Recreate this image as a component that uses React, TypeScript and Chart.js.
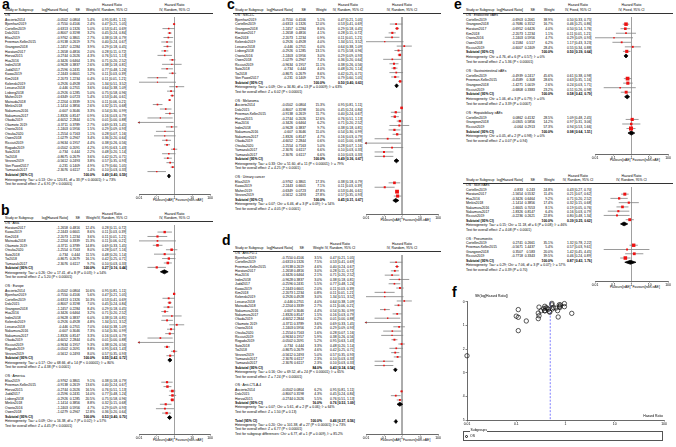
import React, { useEffect, useRef } from "react";
import { Chart, registerables } from "chart.js";

Chart.register(...registerables);

const FONT = "Arial, 'Liberation Sans', Helvetica, sans-serif";
const FS = 3.4;
const PAGE_W = 676;
Chart.defaults.font.family = FONT;

// ---------------- OS studies (panel a; reused in b, c, d and funnel f) ----------------
const studyNames = [
  "Ascierto2014", "Bjornhart2019", "Cortellini2019", "Dolz2015", "Elias2019", "Freeman-Keller2015",
  "Grangeon2018", "Haratani2017", "Horvat2015", "Hua2016", "Indini2018", "Judd2017", "Kawai2019",
  "Kim2018", "Kolenski2019", "Lesueur2018", "Lisberg2018", "Maher2019", "Matsuda2018", "Minkis2018",
  "Nakamura2016", "Nakamura2017", "Okada2019", "Okamoto 2019", "Osorio2016", "Otsuka2020", "Owen2018",
  "Ricciuti2019", "Rogado2019", "Sato2018", "Toi2018", "Verzoni2019", "Von Pawel2017", "Yamazaki2017",
];
const logHRText = [
  "-0.0502", "-0.7550", "-0.6313", "-0.8007", "-0.9762", "-0.9138", "-1.2457", "-1.2658", "-0.2744",
  "-0.3426", "-0.9628", "-0.2596", "-2.2443", "-2.2073", "0.2926", "-0.446", "-0.2926", "-0.6349",
  "-2.2204", "-1.1414", "-0.607", "-1.8326", "-4.6052", "-0.3711", "-1.2403", "-1.2554", "-1.0279",
  "-0.9634", "-0.0502", "-0.734", "-0.8675", "-0.5612", "-0.231", "-2.3076",
];
const seText = [
  "0.0804", "0.4106", "0.1326", "0.3198", "0.3801", "0.2619", "0.2284", "0.4816", "0.2026", "0.6464",
  "0.3837", "0.2431", "0.6601", "1.2234", "0.4928", "0.2701", "0.1285", "0.0723", "0.3339", "0.3856",
  "0.3046", "0.8147", "2.2844", "0.3789", "0.5956", "0.7163", "0.2967", "0.1957", "0.2091", "0.444",
  "0.2679", "0.2493", "0.1409", "0.6117",
];
const hrPoint = [0.95, 0.47, 0.53, 0.45, 0.38, 0.40, 0.29, 0.28, 0.76, 0.71, 0.38, 0.77, 0.11, 0.11, 1.34, 0.64, 0.75, 0.53, 0.11, 0.32, 0.54, 0.16, 0.01, 0.69, 0.29, 0.28, 0.36, 0.38, 0.95, 0.48, 0.42, 0.57, 0.79, 0.10];
const hrLower = [0.81, 0.21, 0.41, 0.24, 0.18, 0.24, 0.18, 0.11, 0.51, 0.20, 0.18, 0.48, 0.03, 0.01, 0.51, 0.38, 0.58, 0.46, 0.06, 0.15, 0.30, 0.03, 0.00, 0.33, 0.09, 0.07, 0.20, 0.26, 0.63, 0.20, 0.25, 0.35, 0.60, 0.03];
const hrUpper = [1.11, 1.05, 0.69, 0.84, 0.79, 0.67, 0.45, 0.72, 1.13, 2.52, 0.81, 1.24, 0.39, 1.21, 3.52, 1.09, 0.96, 0.61, 0.21, 0.68, 0.99, 0.79, 0.88, 1.45, 0.93, 1.16, 0.64, 0.56, 1.43, 1.14, 0.71, 0.93, 1.05, 0.33];
const weightOS = [5.4, 2.4, 5.0, 3.2, 2.7, 3.7, 3.9, 2.0, 4.3, 1.3, 2.6, 3.8, 1.2, 0.4, 2.0, 3.6, 5.0, 5.4, 3.1, 2.6, 3.3, 0.9, 0.1, 2.7, 1.5, 1.1, 3.4, 4.4, 4.2, 2.2, 3.6, 3.8, 4.9, 1.4];
const subOS = [0.49, 0.40, 0.59];
const noteOS = ["Heterogeneity: Tau² = 0.13; Chi² = 120.81, df = 33 (P < 0.00001); I² = 73%", "Test for overall effect: Z = 6.91 (P < 0.00001)"];

// ---------------- panel b: region ----------------
const asiaNames = ["Haratani2017", "Kawai2019", "Kim2018", "Matsuda2018", "Okamoto 2019", "Otsuka2020", "Sato2018", "Toi2018", "Yamazaki2017"];
const asiaWeights = [12.4, 8.6, 3.6, 15.3, 14.8, 8.0, 11.5, 16.1, 9.7];
const subAsia = [0.27, 0.16, 0.44];
const noteAsia = ["Heterogeneity: Tau² = 0.26; Chi² = 17.41, df = 8 (P = 0.03); I² = 54%", "Test for overall effect: Z = 5.20 (P < 0.00001)"];
const europeNames = ["Ascierto2014", "Bjornhart2019", "Cortellini2019", "Dolz2015", "Grangeon2018", "Hua2016", "Indini2018", "Kolenski2019", "Lesueur2018", "Nakamura2016", "Nakamura2017", "Okada2019", "Ricciuti2019", "Rogado2019", "Verzoni2019"];
const europeWeights = [10.6, 5.6, 10.3, 7.0, 8.4, 3.2, 6.0, 4.8, 7.0, 7.3, 3.3, 0.4, 9.3, 8.8, 8.0];
const subEurope = [0.55, 0.42, 0.72];
const noteEurope = ["Heterogeneity: Tau² = 0.17; Chi² = 68.66, df = 14 (P < 0.00001); I² = 80%", "Test for overall effect: Z = 4.38 (P < 0.0001)"];
const americaNames = ["Elias2019", "Freeman-Keller2015", "Horvat2015", "Judd2017", "Lisberg2018", "Minkis2018", "Osorio2016", "Owen2018"];
const americaWeights = [9.1, 13.6, 16.5, 14.0, 20.5, 8.8, 4.7, 12.8];
const subAmerica = [0.53, 0.40, 0.70];
const noteAmerica = ["Heterogeneity: Tau² = 0.09; Chi² = 16.38, df = 7 (P = 0.02); I² = 57%", "Test for overall effect: Z = 4.45 (P < 0.00001)"];

// ---------------- panel c: cancer type ----------------
const nsclcNames = ["Bjornhart2019", "Cortellini2019", "Grangeon2018", "Haratani2017", "Kim2018", "Kolenski2019", "Lesueur2018", "Lisberg2018", "Osorio2016", "Owen2018", "Ricciuti2019", "Sato2018", "Toi2018", "Von Pawel2017"];
const nsclcWeights = [5.1, 12.0, 8.0, 4.1, 0.9, 4.0, 6.0, 13.1, 3.0, 7.4, 11.1, 4.0, 8.6, 12.7];
const subNSCLC = [0.50, 0.40, 0.63];
const noteNSCLC = ["Heterogeneity: Tau² = 0.09; Chi² = 34.80, df = 13 (P = 0.0009); I² = 63%", "Test for overall effect: Z = 6.02 (P < 0.00001)"];
const melanomaNames = ["Ascierto2014", "Dolz2015", "Freeman-Keller2015", "Horvat2015", "Hua2016", "Indini2018", "Nakamura2016", "Nakamura2017", "Okada2019", "Otsuka2020", "Yamazaki2017", "Yamazaki2017"];
const melanomaWeights = [15.3, 10.0, 11.7, 12.6, 6.2, 9.7, 11.0, 4.7, 0.6, 5.0, 6.6, 6.6];
const subMelanoma = [0.49, 0.36, 0.67];
const noteMelanoma = ["Heterogeneity: Tau² = 0.33; Chi² = 51.60, df = 11 (P < 0.00001); I² = 79%", "Test for overall effect: Z = 4.25 (P < 0.0001)"];
const urinaryNames = ["Elias2019", "Kawai2019", "Maher2019", "Verzoni2019"];
const urinaryWeights = [17.3, 7.1, 47.8, 27.8];
const subUrinary = [0.45, 0.31, 0.67];
const noteUrinary = ["Heterogeneity: Tau² = 0.07; Chi² = 6.46, df = 3 (P = 0.09); I² = 54%", "Test for overall effect: Z = 4.05 (P < 0.0001)"];

// ---------------- panel d: ICI type ----------------
const pd1Names = ["Bjornhart2019", "Cortellini2019", "Freeman-Keller2015", "Haratani2017", "Hua2016", "Indini2018", "Judd2017", "Kawai2019", "Kim2018", "Kolenski2019", "Lesueur2018", "Matsuda2018", "Nakamura2016", "Nakamura2017", "Okada2019", "Okamoto 2019", "Osorio2016", "Otsuka2020", "Ricciuti2019", "Rogado2019", "Sato2018", "Toi2018", "Verzoni2019", "Yamazaki2017", "Yamazaki2017"];
const pd1Weights = [3.5, 7.5, 4.6, 3.0, 2.1, 3.0, 5.5, 2.0, 0.8, 3.0, 4.0, 2.7, 4.4, 1.5, 0.2, 3.6, 2.4, 1.6, 5.9, 5.2, 3.3, 4.6, 5.0, 2.3, 2.3];
const subPD1 = [0.43, 0.34, 0.54];
const notePD1 = ["Heterogeneity: Tau² = 0.16; Chi² = 69.52, df = 24 (P < 0.00001); I² = 65%", "Test for overall effect: Z = 7.24 (P < 0.00001)"];
const ctla4Names = ["Ascierto2014", "Dolz2015", "Horvat2015"];
const ctla4Weights = [6.2, 4.3, 5.5];
const subCTLA4 = [0.76, 0.53, 1.09];
const noteCTLA4 = ["Heterogeneity: Tau² = 0.07; Chi² = 5.61, df = 2 (P = 0.06); I² = 64%", "Test for overall effect: Z = 1.50 (P = 0.13)"];
const totalICI = [0.46, 0.37, 0.56];
const noteTotal = ["Heterogeneity: Tau² = 0.20; Chi² = 101.38, df = 27 (P < 0.00001); I² = 73%", "Test for overall effect: Z = 6.77 (P < 0.00001)", "Test for subgroup differences: Chi² = 6.77, df = 1 (P = 0.009), I² = 85.2%"];

// ---------------- panel e: irAE types ----------------
const endoNames = ["Cortellini2019", "Grangeon2018", "Haratani2017", "Kim2018", "Osorio2016", "Owen2018", "Ricciuti2019"];
const endoLogHR = ["-0.6903", "-0.7686", "-0.6952", "-2.2073", "-1.2403", "0.1584", "-0.6007"];
const endoSE = ["0.2061", "0.3152", "0.6426", "1.2234", "0.5956", "0.517", "0.2409"];
const endoWeights = [38.9, 16.7, 4.0, 1.1, 4.7, 6.2, 28.4];
const endoHR = [0.50, 0.46, 0.50, 0.11, 0.29, 1.17, 0.55];
const endoLo = [0.33, 0.25, 0.14, 0.01, 0.09, 0.43, 0.34];
const endoHi = [0.75, 0.86, 1.76, 1.21, 0.93, 3.23, 0.88];
const subEndo = [0.50, 0.39, 0.64];
const noteEndo = ["Heterogeneity: Chi² = 4.76, df = 6 (P = 0.57); I² = 0%", "Test for overall effect: Z = 5.36 (P < 0.00001)"];

const giNames = ["Cortellini2019", "Freeman-Keller2015", "Grangeon2018", "Ricciuti2019"];
const giLogHR = ["-0.4939", "-0.4589", "-1.4271", "-0.6808"];
const giSE = ["0.2417", "0.308", "1.0019", "0.3383"];
const giWeights = [45.6, 28.6, 2.6, 23.2];
const giHR = [0.61, 0.63, 0.24, 0.51];
const giLo = [0.38, 0.35, 0.03, 0.26];
const giHi = [0.98, 1.16, 1.71, 0.98];
const subGI = [0.58, 0.42, 0.79];
const noteGI = ["Heterogeneity: Chi² = 1.06, df = 3 (P = 0.79); I² = 0%", "Test for overall effect: Z = 3.39 (P = 0.0007)"];

const hepNames = ["Cortellini2019", "Grangeon2018", "Ricciuti2019"];
const hepLogHR = ["0.0862", "-0.0305", "-0.064"];
const hepSE = ["0.4132", "0.5856", "0.2913"];
const hepWeights = [28.5, 14.2, 57.3];
const hepHR = [1.09, 0.97, 0.94];
const hepLo = [0.48, 0.31, 0.53];
const hepHi = [2.45, 3.06, 1.66];
const subHep = [0.98, 0.64, 1.51];
const noteHep = ["Heterogeneity: Chi² = 0.05, df = 2 (P = 0.98); I² = 0%", "Test for overall effect: Z = 0.07 (P = 0.94)"];

const skinNames = ["Cortellini2019", "Haratani2017", "Hua2016", "Minkis2018", "Nakamura2016", "Nakamura2017", "Ricciuti2019"];
const skinLogHR = ["-0.833", "-1.5654", "-0.3426", "-1.1414", "-1.6605", "-1.8326", "-0.2236"];
const skinSE = ["0.243", "0.5532", "0.6464", "0.3856", "0.7053", "0.8147", "0.2621"];
const skinWeights = [24.8, 11.4, 9.2, 17.4, 8.1, 6.4, 22.8];
const skinHR = [0.43, 0.21, 0.71, 0.32, 0.19, 0.16, 0.80];
const skinLo = [0.27, 0.07, 0.20, 0.15, 0.05, 0.03, 0.48];
const skinHi = [0.70, 0.62, 2.52, 0.68, 0.76, 0.79, 1.34];
const subSkin = [0.39, 0.25, 0.62];
const noteSkin = ["Heterogeneity: Tau² = 0.15; Chi² = 11.18, df = 6 (P = 0.08); I² = 46%", "Test for overall effect: Z = 4.08 (P < 0.0001)"];

const pneuNames = ["Cortellini2019", "Freeman-Keller2015", "Grangeon2018", "Ricciuti2019"];
const pneuLogHR = ["0.2741", "-0.5671", "0.3507", "-0.7718"];
const pneuSE = ["0.2661", "1.4437", "0.583", "0.3343"];
const pneuWeights = [35.1, 5.4, 20.0, 39.5];
const pneuHR = [1.32, 0.57, 1.42, 0.46];
const pneuLo = [0.78, 0.03, 0.45, 0.24];
const pneuHi = [2.22, 9.61, 4.45, 0.89];
const subPneu = [0.87, 0.43, 1.76];
const notePneu = ["Heterogeneity: Tau² = 0.29; Chi² = 7.06, df = 3 (P = 0.07); I² = 57%", "Test for overall effect: Z = 0.39 (P = 0.70)"];

const axisTicks = [0.01, 0.1, 1, 10, 100];
const funnelSETicks = [0, 1, 2, 3, 4, 5];

// ---------------- row model ----------------
type Row = {
  kind: "group" | "study" | "sub" | "note" | "blank";
  name?: string; lhr?: string; se?: string; w?: number;
  hr?: number; lo?: number; hi?: number;
};
const osStudy = (name: string, w: number): Row => {
  const k = studyNames.indexOf(name);
  return { kind: "study", name, lhr: logHRText[k], se: seText[k], w, hr: hrPoint[k], lo: hrLower[k], hi: hrUpper[k] };
};
const grp = (name: string): Row => ({ kind: "group", name });
const sub = (label: string, w: number, est: number[]): Row => ({ kind: "sub", name: label, w, hr: est[0], lo: est[1], hi: est[2] });
const notes = (lines: string[]): Row[] => lines.map((t) => ({ kind: "note", name: t } as Row));
const BLANK: Row = { kind: "blank" };
const osBlock = (title: string, names: string[], ws: number[], est: number[], nt: string[], subW = 100): Row[] => [
  grp(title), ...names.map((n, i) => osStudy(n, ws[i])), sub("Subtotal (95% CI)", subW, est), ...notes(nt),
];
const ownBlock = (title: string, names: string[], lhr: string[], se: string[], ws: number[], hr: number[], lo: number[], hi: number[], est: number[], nt: string[]): Row[] => [
  grp(title),
  ...names.map((n, i) => ({ kind: "study", name: n, lhr: lhr[i], se: se[i], w: ws[i], hr: hr[i], lo: lo[i], hi: hi[i] } as Row)),
  sub("Subtotal (95% CI)", 100, est), ...notes(nt),
];

const rowsA: Row[] = osBlock("OS", studyNames, weightOS, subOS, noteOS);
const rowsB: Row[] = [
  ...osBlock("OS : Asia", asiaNames, asiaWeights, subAsia, noteAsia), BLANK,
  ...osBlock("OS : Europe", europeNames, europeWeights, subEurope, noteEurope), BLANK,
  ...osBlock("OS : America", americaNames, americaWeights, subAmerica, noteAmerica),
];
const rowsC: Row[] = [
  ...osBlock("OS : NSCLC", nsclcNames, nsclcWeights, subNSCLC, noteNSCLC), BLANK,
  ...osBlock("OS : Melanoma", melanomaNames, melanomaWeights, subMelanoma, noteMelanoma), BLANK,
  ...osBlock("OS : Urinary cancer", urinaryNames, urinaryWeights, subUrinary, noteUrinary),
];
const rowsD: Row[] = [
  ...osBlock("OS : Anti-PD-1", pd1Names, pd1Weights, subPD1, notePD1, 84.0), BLANK,
  ...osBlock("OS : Anti-CTLA-4", ctla4Names, ctla4Weights, subCTLA4, noteCTLA4, 16.0), BLANK,
  sub("Total (95% CI)", 100, totalICI), ...notes(noteTotal),
];
const rowsE1: Row[] = [
  ...ownBlock("OS : Endocrine irAEs", endoNames, endoLogHR, endoSE, endoWeights, endoHR, endoLo, endoHi, subEndo, noteEndo), BLANK,
  ...ownBlock("OS : Gastrointestinal irAEs", giNames, giLogHR, giSE, giWeights, giHR, giLo, giHi, subGI, noteGI), BLANK,
  ...ownBlock("OS : Hepatobiliary irAEs", hepNames, hepLogHR, hepSE, hepWeights, hepHR, hepLo, hepHi, subHep, noteHep),
];
const rowsE2: Row[] = [
  ...ownBlock("OS : Skin irAEs", skinNames, skinLogHR, skinSE, skinWeights, skinHR, skinLo, skinHi, subSkin, noteSkin), BLANK,
  ...ownBlock("OS : Pneumonitis", pneuNames, pneuLogHR, pneuSE, pneuWeights, pneuHR, pneuLo, pneuHi, subPneu, notePneu),
];

// ---------------- layout ----------------
type Geo = {
  rowTop: number; rowH: number; cName: number; cLhr: number; cSe: number; cW: number; cCi: number; ciHdr: number;
  x0: number; x1: number; hdr1Y: number; hdr2Y: number; lineY: number; lineX0: number; lineX1: number; axisY: number; method: string;
};
const RANDOM = "IV, Random, 95% CI";
const colsAB = { cName: 5, cLhr: 68, cSe: 80, cW: 95, cCi: 102, ciHdr: 112, x0: 139, x1: 210 };
const colsC = { cName: 235, cLhr: 293, cSe: 306, cW: 325, cCi: 338, ciHdr: 348, x0: 366, x1: 438 };
const colsD = { cName: 235, cLhr: 293, cSe: 304, cW: 322, cCi: 330, ciHdr: 340, x0: 366, x1: 438 };
const colsE = { cName: 466, cLhr: 523, cSe: 535, cW: 553, cCi: 567, ciHdr: 578, x0: 595, x1: 668 };
const geoA: Geo = { ...colsAB, rowTop: 15.7, rowH: 4.57, hdr1Y: 6, hdr2Y: 10.5, lineY: 13, lineX0: 4, lineX1: 213, axisY: 194, method: RANDOM };
const geoB: Geo = { ...colsAB, rowTop: 223.7, rowH: 4.5, hdr1Y: 214.3, hdr2Y: 218.8, lineY: 221, lineX0: 4, lineX1: 213, axisY: 434, method: RANDOM };
const geoC: Geo = { ...colsC, rowTop: 15.7, rowH: 4.5, hdr1Y: 6, hdr2Y: 10.5, lineY: 13, lineX0: 233, lineX1: 441, axisY: 214, method: RANDOM };
const geoD: Geo = { ...colsD, rowTop: 254, rowH: 4.4, hdr1Y: 244.3, hdr2Y: 248.8, lineY: 251, lineX0: 233, lineX1: 441, axisY: 434, method: RANDOM };
const geoE1: Geo = { ...colsE, rowTop: 15.7, rowH: 4.67, hdr1Y: 6, hdr2Y: 10.5, lineY: 13, lineX0: 463, lineX1: 673, axisY: 154, method: "IV, Fixed, 95% CI" };
const geoE2: Geo = { ...colsE, rowTop: 186, rowH: 4.44, hdr1Y: 176.7, hdr2Y: 181, lineY: 183, lineX0: 463, lineX1: 673, axisY: 281, method: RANDOM };

// ---------------- helpers ----------------
const fmtCI = (r: Row) => `${r.hr!.toFixed(2)} [${r.lo!.toFixed(2)}, ${r.hi!.toFixed(2)}]`;

function Txt({ x, y, s, align = "left", bold = false, size = FS }: { x: number; y: number; s: string; align?: "left" | "right" | "center"; bold?: boolean; size?: number }) {
  const st: React.CSSProperties = {
    position: "absolute", top: y - size / 2, fontSize: size, lineHeight: `${size}px`, whiteSpace: "nowrap",
    fontWeight: bold ? 700 : 400, color: "#000",
  };
  if (align === "left") st.left = x;
  else if (align === "right") st.right = PAGE_W - x;
  else { st.left = x; st.transform = "translateX(-50%)"; }
  return <span style={st}>{s}</span>;
}

function logAxis(height: number): any {
  return {
    type: "logarithmic", min: 0.01, max: 100,
    afterBuildTicks: (s: any) => { s.ticks = axisTicks.map((v) => ({ value: v })); },
    afterFit: (s: any) => { s.height = height; },
    ticks: { font: { size: FS, family: FONT }, color: "#000", padding: 0.6, autoSkip: false, maxRotation: 0, minRotation: 0, callback: (v: any) => String(v) },
    grid: { display: true, drawOnChartArea: false, drawTicks: true, tickLength: 1.5, color: "#333", lineWidth: 0.6 },
    border: { display: true, color: "#444", width: 0.8 },
  };
}

const squareSide = (w: number) => 0.9 + 0.42 * Math.sqrt(w);

function ForestChart({ rows, g }: { rows: Row[]; g: Geo }) {
  const ref = useRef<HTMLCanvasElement>(null);
  const cl = Math.floor(g.x0 - 7);
  const cr = Math.ceil(g.x1 + 7);
  const ct = Math.floor(g.lineY);
  const cb = Math.ceil(g.axisY + 9);
  const width = cr - cl;
  const height = cb - ct;
  useEffect(() => {
    const yMin = (g.lineY - g.rowTop) / g.rowH;
    const yMax = (g.axisY - g.rowTop) / g.rowH;
    const ci: any[] = [];
    const sq: any[] = [];
    const arrowsL: any[] = [];
    const arrowsR: any[] = [];
    const diamonds: any[] = [];
    rows.forEach((r, i) => {
      if (r.kind === "study") {
        ci.push({ x: Math.max(r.lo!, 0.01), y: i }, { x: Math.min(r.hi!, 100), y: i }, { x: NaN, y: NaN });
        sq.push({ x: r.hr, y: i, w: r.w });
        if (r.lo! < 0.01) arrowsL.push({ x: 0.01, y: i });
        if (r.hi! > 100) arrowsR.push({ x: 100, y: i });
      } else if (r.kind === "sub") {
        const dh = 0.45;
        diamonds.push({
          type: "line",
          data: [{ x: r.lo, y: i }, { x: r.hr, y: i - dh }, { x: r.hi, y: i }, { x: r.hr, y: i + dh }, { x: r.lo, y: i }],
          borderColor: "#000", backgroundColor: "#000", borderWidth: 0.8, fill: "shape", pointRadius: 0, tension: 0, clip: false,
        });
      }
    });
    const chart = new Chart(ref.current!, {
      type: "scatter",
      data: {
        datasets: [
          {
            data: sq, pointStyle: "rect", backgroundColor: "#ee1111", pointBackgroundColor: "#ee1111", borderWidth: 0, pointBorderWidth: 0,
            pointRadius: (c: any) => squareSide(c.raw ? c.raw.w : 1) / Math.SQRT2, clip: false,
          } as any,
          ...diamonds,
          { data: arrowsL, pointStyle: "triangle", pointRotation: -90, pointRadius: 1.5, backgroundColor: "#555", pointBackgroundColor: "#555", pointBorderWidth: 0, clip: false } as any,
          { data: arrowsR, pointStyle: "triangle", pointRotation: 90, pointRadius: 1.5, backgroundColor: "#555", pointBackgroundColor: "#555", pointBorderWidth: 0, clip: false } as any,
          { type: "line", data: ci, borderColor: "#808080", borderWidth: 0.8, pointRadius: 0, spanGaps: false, fill: false, clip: false } as any,
          { type: "line", data: [{ x: 1, y: yMin }, { x: 1, y: yMax }], borderColor: "#a0a0a0", borderWidth: 1, pointRadius: 0, fill: false, clip: false } as any,
        ],
      },
      options: {
        responsive: false, animation: false, devicePixelRatio: 1, events: [],
        layout: { padding: { left: g.x0 - cl, right: cr - g.x1, top: g.lineY - ct, bottom: 0 } },
        plugins: { legend: { display: false }, tooltip: { enabled: false } },
        scales: {
          x: logAxis(cb - g.axisY),
          y: { type: "linear", display: false, min: yMin, max: yMax, reverse: true },
        },
      } as any,
    });
    return () => chart.destroy();
  }, []);
  return <canvas ref={ref} width={width} height={height} style={{ position: "absolute", left: cl, top: ct, width, height }} />;
}

function ForestPanel({ rows, g }: { rows: Row[]; g: Geo }) {
  const xc = (g.x0 + g.x1) / 2;
  const items: React.ReactNode[] = [
    <Txt key="h1a" x={g.ciHdr} y={g.hdr1Y} s="Hazard Ratio" align="center" />,
    <Txt key="h1b" x={xc} y={g.hdr1Y} s="Hazard Ratio" align="center" />,
    <Txt key="h2a" x={g.cName} y={g.hdr2Y} s="Study or Subgroup" />,
    <Txt key="h2b" x={g.cLhr} y={g.hdr2Y} s="log[Hazard Ratio]" align="right" />,
    <Txt key="h2c" x={g.cSe} y={g.hdr2Y} s="SE" align="right" />,
    <Txt key="h2d" x={g.cW + 1.5} y={g.hdr2Y} s="Weight" align="right" />,
    <Txt key="h2e" x={g.ciHdr} y={g.hdr2Y} s={g.method} align="center" />,
    <Txt key="h2f" x={xc} y={g.hdr2Y} s={g.method} align="center" />,
    <div key="hl" style={{ position: "absolute", left: g.lineX0, top: Math.round(g.lineY), width: g.lineX1 - g.lineX0, height: 1, background: "#333" }} />,
    <Txt key="fl" x={xc - 1} y={g.axisY + 7} s="Favours[irAE]" align="right" />,
    <Txt key="fr" x={xc + 1} y={g.axisY + 7} s="Favours[non-irAE]" />,
  ];
  rows.forEach((r, i) => {
    const y = g.rowTop + i * g.rowH;
    if (r.kind === "group" || r.kind === "note") {
      items.push(<Txt key={`n${i}`} x={g.cName} y={y} s={r.name!} />);
    } else if (r.kind === "study") {
      items.push(<Txt key={`a${i}`} x={g.cName} y={y} s={r.name!} />);
      items.push(<Txt key={`b${i}`} x={g.cLhr} y={y} s={r.lhr!} align="right" />);
      items.push(<Txt key={`c${i}`} x={g.cSe} y={y} s={r.se!} align="right" />);
      items.push(<Txt key={`d${i}`} x={g.cW} y={y} s={`${r.w!.toFixed(1)}%`} align="right" />);
      items.push(<Txt key={`e${i}`} x={g.cCi} y={y} s={fmtCI(r)} />);
    } else if (r.kind === "sub") {
      items.push(<Txt key={`a${i}`} x={g.cName} y={y} s={r.name!} bold />);
      items.push(<Txt key={`d${i}`} x={g.cW} y={y} s={`${r.w!.toFixed(1)}%`} align="right" bold />);
      items.push(<Txt key={`e${i}`} x={g.cCi} y={y} s={fmtCI(r)} bold />);
    }
  });
  return (
    <>
      {items}
      <ForestChart rows={rows} g={g} />
    </>
  );
}

function FunnelChart() {
  const ref = useRef<HTMLCanvasElement>(null);
  const cl = 455, ct = 297, cr = 672, cb = 428;
  const areaL = 467, areaT = 300, areaR = 664, areaB = 420;
  useEffect(() => {
    const pts = studyNames.map((_, k) => ({ x: hrPoint[k], y: Number(seText[k]) }));
    const chart = new Chart(ref.current!, {
      type: "scatter",
      data: {
        datasets: [
          {
            data: pts, pointStyle: "circle", pointRadius: 2.2, pointBorderWidth: 0.7, borderColor: "#111", pointBorderColor: "#111",
            backgroundColor: "rgba(0,0,0,0)", pointBackgroundColor: "rgba(0,0,0,0)", clip: false,
          } as any,
          {
            type: "line", data: [{ x: subOS[0], y: 0 }, { x: subOS[0], y: 5 }], borderColor: "#7d7dff", borderDash: [2, 1.5],
            borderWidth: 1, pointRadius: 0, fill: false, clip: false,
          } as any,
        ],
      },
      options: {
        responsive: false, animation: false, devicePixelRatio: 1, events: [],
        layout: { padding: { left: 0, right: cr - areaR, top: areaT - ct, bottom: 0 } },
        plugins: { legend: { display: false }, tooltip: { enabled: false } },
        scales: {
          x: logAxis(cb - areaB),
          y: {
            type: "linear", min: 0, max: 5, reverse: true,
            afterBuildTicks: (s: any) => { s.ticks = funnelSETicks.map((v) => ({ value: v })); },
            afterFit: (s: any) => { s.width = areaL - cl; },
            ticks: { font: { size: FS, family: FONT }, color: "#000", padding: 0.8, callback: (v: any) => String(v) },
            grid: { display: true, drawOnChartArea: false, drawTicks: true, tickLength: 1.5, color: "#333", lineWidth: 0.6 },
            border: { display: true, color: "#444", width: 0.8 },
          },
        },
      } as any,
    });
    return () => chart.destroy();
  }, []);
  return <canvas ref={ref} width={cr - cl} height={cb - ct} style={{ position: "absolute", left: cl, top: ct, width: cr - cl, height: cb - ct }} />;
}

function Letter({ x, base, t }: { x: number; base: number; t: string }) {
  const fs = 14;
  return (
    <span style={{ position: "absolute", left: x, top: base - 0.85 * fs, fontSize: fs, lineHeight: `${fs}px`, fontWeight: 700, color: "#000" }}>{t}</span>
  );
}

export default function App() {
  useEffect(() => {
    document.body.style.margin = "0";
  }, []);
  return (
    <div style={{ position: "fixed", left: 0, top: 0, width: PAGE_W, height: 447, background: "#fff", overflow: "hidden", fontFamily: FONT, color: "#000" }}>
      <Letter x={2} base={9} t="a" />
      <Letter x={1} base={215} t="b" />
      <Letter x={227} base={9} t="c" />
      <Letter x={222} base={245} t="d" />
      <Letter x={454} base={9} t="e" />
      <Letter x={452} base={297} t="f" />
      <ForestPanel rows={rowsA} g={geoA} />
      <ForestPanel rows={rowsB} g={geoB} />
      <ForestPanel rows={rowsC} g={geoC} />
      <ForestPanel rows={rowsD} g={geoD} />
      <ForestPanel rows={rowsE1} g={geoE1} />
      <ForestPanel rows={rowsE2} g={geoE2} />
      <FunnelChart />
      <Txt x={475} y={297} s="SE(log[Hazard Ratio])" />
      <Txt x={663} y={417} s="Hazard Ratio" align="right" />
      <div style={{ position: "absolute", left: 463, top: 431, width: 200, height: 10, border: "1px solid #555", boxSizing: "border-box" }} />
      <span style={{ position: "absolute", left: 470, top: 429.3, fontSize: FS, lineHeight: `${FS}px`, background: "#fff", padding: "0 0.5px", whiteSpace: "nowrap" }}>Subgroups</span>
      <span style={{ position: "absolute", left: 465, top: 435, width: 3.4, height: 3.4, borderRadius: "50%", border: "0.7px solid #111", boxSizing: "border-box" }} />
      <Txt x={470} y={437} s="OS" />
    </div>
  );
}
